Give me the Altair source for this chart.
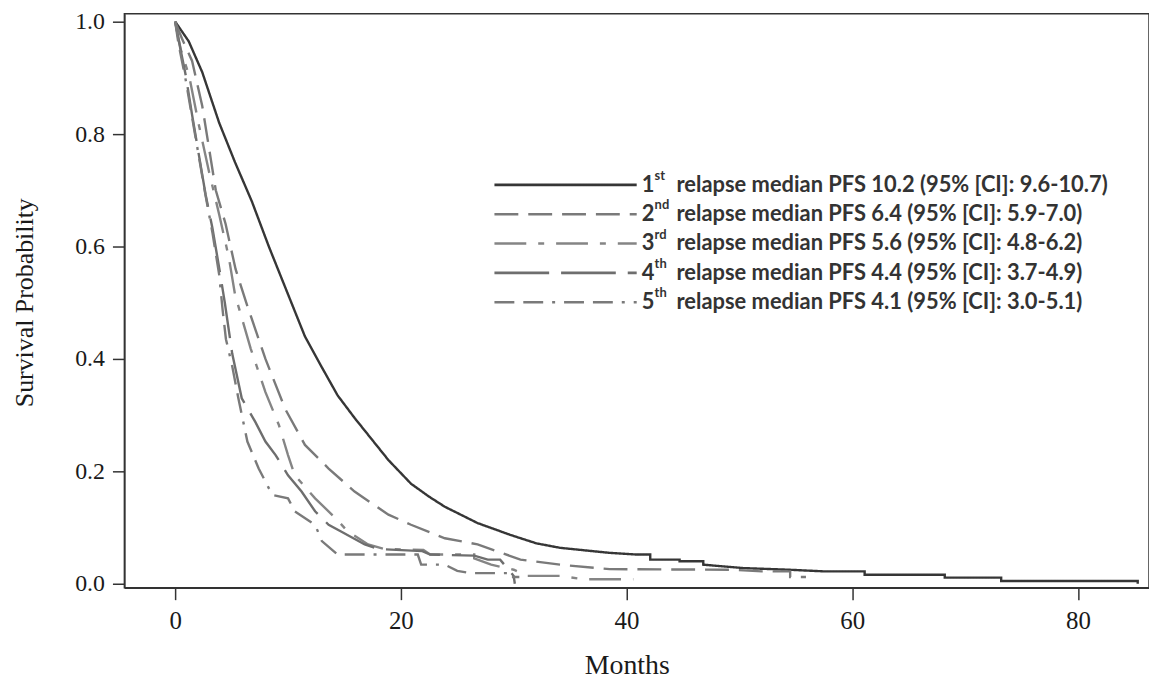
import altair as alt
import pandas as pd

# ---- data (months, survival probability) ----
series = ["1st", "2nd", "3rd", "4th", "5th"]

months_1 = [0, 1.2, 2.4, 3.9, 5.3, 6.8, 8.3, 9.5, 10.3, 11.5, 13.0, 14.4, 15.9, 17.5, 18.9, 20.9, 22.5,
            23.9, 26.8, 29.7, 32.0, 34.1, 38.5, 40.9, 42.1, 42.1, 44.7, 44.7, 46.8, 46.8, 50.3, 54.4,
            57.6, 61.1, 61.1, 68.2, 68.2, 73.2, 73.2, 85.3, 85.3]
surv_1 = [1.0, 0.965, 0.91, 0.82, 0.75, 0.68, 0.60, 0.54, 0.50, 0.44, 0.385, 0.335, 0.295, 0.255, 0.22,
          0.178, 0.155, 0.137, 0.108, 0.087, 0.072, 0.064, 0.055, 0.052, 0.052, 0.043, 0.043, 0.040,
          0.040, 0.034, 0.028, 0.025, 0.022, 0.022, 0.016, 0.016, 0.011, 0.011, 0.005, 0.005, 0.0]

months_2 = [0, 0.6, 1.5, 2.4, 3.6, 4.47, 5.35, 6.3, 8.0, 9.75, 11.5, 13.6, 15.9, 18.9, 20.9, 23.9,
            26.8, 28.5, 30.6, 34.1, 38.5, 49.4, 52.0, 54.5, 54.5, 55.9]
surv_2 = [1.0, 0.97, 0.93, 0.85, 0.70, 0.64, 0.56, 0.50, 0.40, 0.311, 0.247, 0.205, 0.164, 0.123, 0.105, 0.081,
          0.070, 0.058, 0.043, 0.034, 0.026, 0.025, 0.022, 0.022, 0.012, 0.012]

months_3 = [0, 0.5, 1.23, 2.1, 3.0, 3.9, 4.76, 5.35, 5.6, 6.7, 8.0, 9.2, 10.0, 10.6, 12.4, 14.2, 15.3,
            17.1, 18.5, 22.0, 22.6, 26.5, 26.5, 28.0, 30.0, 31.2, 34.1, 36.2, 40.6]
surv_3 = [1.0, 0.95, 0.904, 0.816, 0.733, 0.657, 0.58, 0.509, 0.494, 0.418, 0.341, 0.282, 0.229, 0.193, 0.152,
          0.117, 0.093, 0.070, 0.062, 0.060, 0.052, 0.052, 0.045, 0.034, 0.025, 0.014, 0.014, 0.008, 0.008]

months_4 = [0, 0.35, 0.94, 1.5, 2.1, 2.7, 3.3, 3.9, 4.4, 5.05, 5.9, 7.1, 8.0, 8.9, 10.0, 11.2, 12.4,
            13.6, 14.7, 16.8, 18.0, 21.9, 22.6, 26.5, 27.7, 28.8, 30.0, 30.1]
surv_4 = [1.0, 0.963, 0.904, 0.834, 0.763, 0.692, 0.633, 0.562, 0.50, 0.41, 0.33, 0.288, 0.253, 0.229, 0.193,
          0.164, 0.129, 0.105, 0.093, 0.070, 0.062, 0.058, 0.052, 0.050, 0.043, 0.043, 0.014, 0.0]

months_5 = [0, 0.3, 0.9, 1.5, 2.1, 2.7, 3.3, 3.9, 4.2, 4.5, 5.05, 5.6, 6.1, 6.4, 7.4, 8.0, 8.6, 10.0,
            10.6, 12.4, 13.0, 14.4, 21.5, 21.8, 23.9, 25.0, 26.2, 29.7, 29.7, 30.5]
surv_5 = [1.0, 0.96, 0.90, 0.83, 0.76, 0.69, 0.625, 0.55, 0.488, 0.435, 0.388, 0.33, 0.282, 0.253, 0.205,
          0.182, 0.158, 0.152, 0.129, 0.105, 0.076, 0.052, 0.052, 0.034, 0.034, 0.023, 0.019, 0.019, 0.012, 0.012]

legend_num = ["1", "2", "3", "4", "5"]
legend_sup = ["st", "nd", "rd", "th", "th"]
legend_rest = [
    "relapse median PFS 10.2 (95% [CI]: 9.6-10.7)",
    "relapse median PFS 6.4 (95% [CI]: 5.9-7.0)",
    "relapse median PFS 5.6 (95% [CI]: 4.8-6.2)",
    "relapse median PFS 4.4 (95% [CI]: 3.7-4.9)",
    "relapse median PFS 4.1 (95% [CI]: 3.0-5.1)",
]

x_ticks = [0, 20, 40, 60, 80]
y_ticks = [0.0, 0.2, 0.4, 0.6, 0.8, 1.0]

# ---- styles ----
colors = ["#363636", "#7a7a7a", "#858585", "#6e6e6e", "#7a7a7a"]
dashes = [[1, 0], [24, 10], [32, 12, 6, 12], [55, 12], [20, 9, 20, 9, 3, 9]]

rows = []
for s, m, v in zip(series, [months_1, months_2, months_3, months_4, months_5],
                   [surv_1, surv_2, surv_3, surv_4, surv_5]):
    for i, (a, b) in enumerate(zip(m, v)):
        rows.append({"series": s, "month": a, "surv": b, "idx": i})
df = pd.DataFrame(rows)

leg = pd.DataFrame({"series": series, "num": legend_num, "sup": legend_sup, "rest": legend_rest})

xs = alt.Scale(domain=[-4.5, 86.3], nice=False, zero=False)
ys = alt.Scale(domain=[-0.007, 1.014], nice=False, zero=False)
color_scale = alt.Scale(domain=series, range=colors)
dash_scale = alt.Scale(domain=series, range=dashes)

serif = "Liberation Serif"

lines = alt.Chart(df).mark_line(strokeWidth=2.4).encode(
    x=alt.X("month:Q", scale=xs,
            axis=alt.Axis(values=x_ticks, title="Months", format="d",
                          titleX=505, titleY=78, titleBaseline="middle",
                          titleFontSize=28, labelPadding=9, labelFontSize=25)),
    y=alt.Y("surv:Q", scale=ys,
            axis=alt.Axis(values=y_ticks, format=".1f", title="Survival Probability",
                          titleX=-100, titleY=290, titleAngle=-90, titleBaseline="middle",
                          titleFontSize=26, labelPadding=8, labelFontSize=24)),
    color=alt.Color("series:N", scale=color_scale, legend=None),
    strokeDash=alt.StrokeDash("series:N", scale=dash_scale, legend=None),
    order=alt.Order("idx:Q"),
)

row_scale = alt.Scale(type="point", domain=series, range=[172, 290], padding=0)

leg_rules = alt.Chart(leg).mark_rule(strokeWidth=2.6).encode(
    x=alt.value(372), x2=alt.value(515),
    y=alt.Y("series:N", scale=row_scale, axis=None),
    color=alt.Color("series:N", scale=color_scale, legend=None),
    strokeDash=alt.StrokeDash("series:N", scale=dash_scale, legend=None),
)

txt_font = "Lato"
leg_num = alt.Chart(leg).mark_text(align="left", baseline="middle", font=txt_font, fontSize=22,
                                   fontWeight="bold", color="#333333").encode(
    x=alt.value(520), y=alt.Y("series:N", scale=row_scale, axis=None), text="num:N")
leg_sup = alt.Chart(leg).mark_text(align="left", baseline="middle", font=txt_font, fontSize=13,
                                   fontWeight="bold", color="#333333", dy=-9).encode(
    x=alt.value(533), y=alt.Y("series:N", scale=row_scale, axis=None), text="sup:N")
leg_rest = alt.Chart(leg).mark_text(align="left", baseline="middle", font=txt_font, fontSize=22,
                                    fontWeight="bold", color="#333333").encode(
    x=alt.value(555), y=alt.Y("series:N", scale=row_scale, axis=None), text="rest:N")

chart = alt.layer(lines, leg_rules, leg_num, leg_sup, leg_rest).resolve_scale(
    y="independent"
).properties(
    width=1030, height=577,
    autosize=alt.AutoSizeParams(type="none"),
    padding={"left": 117, "top": 4, "right": 0, "bottom": 93},
).configure_view(
    stroke="#333333", strokeWidth=1.5
).configure_axis(
    grid=False, domainColor="#333333", domainWidth=1.5,
    tickColor="#333333", tickWidth=1.5, tickSize=12,
    labelFont=serif, labelColor="#1a1a1a",
    titleFont=serif, titleFontWeight="normal", titleColor="#1a1a1a",
)

chart.save("out.html", embed_options={"renderer": "svg", "actions": False})
